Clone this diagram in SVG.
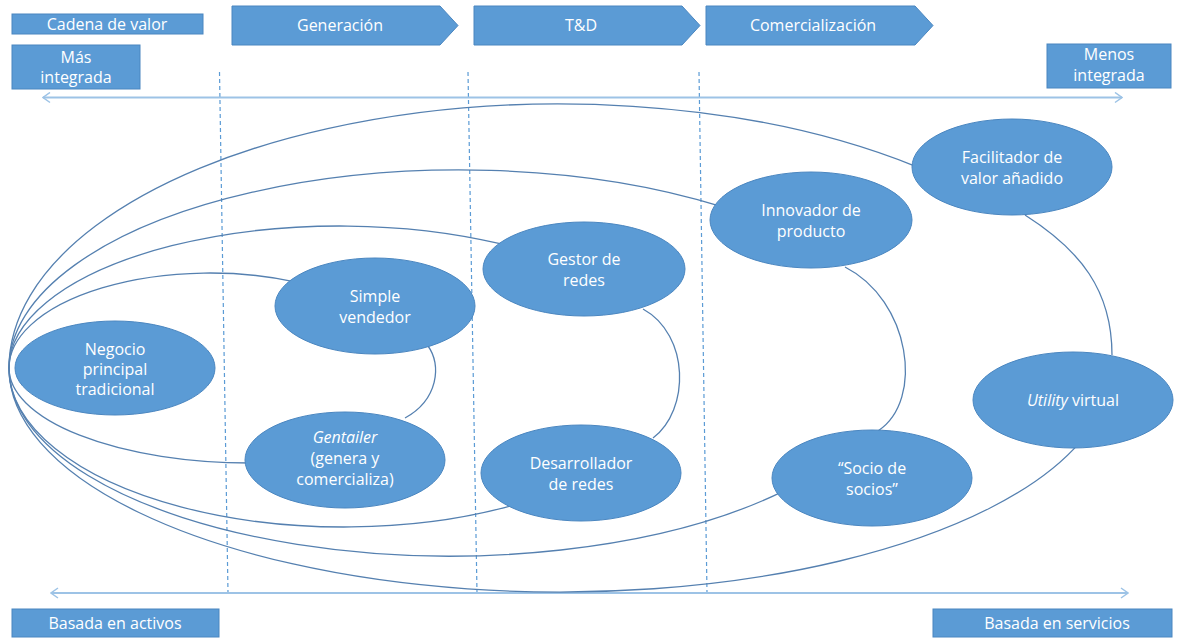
<svg xmlns="http://www.w3.org/2000/svg" width="1181" height="638" viewBox="0 0 1181 638">
<style>
  .box { fill: #5b9bd5; stroke: #4a86c0; stroke-width: 1; }
  .node { fill: #5b9bd5; stroke: #4a86c0; stroke-width: 1; }
  .t { font-family: "Open Sans", "Noto Sans", "DejaVu Sans", sans-serif; font-size: 16px; fill: #ffffff; text-anchor: middle; }
  .conn { fill: none; stroke: #5580b0; stroke-width: 1.3; }
  .dash { fill: none; stroke: #5b9bd5; stroke-width: 1.2; stroke-dasharray: 4 3; }
  .axis { fill: none; stroke: #9dc3e6; stroke-width: 2; }
</style>
<defs>
  <marker id="chev" viewBox="0 0 10 12" refX="9" refY="6" markerWidth="10" markerHeight="12" markerUnits="userSpaceOnUse" orient="auto-start-reverse">
    <path d="M 2 1 L 9 6 L 2 11" fill="none" stroke="#9dc3e6" stroke-width="1.5"/>
  </marker>
</defs>
<rect width="1181" height="638" fill="#ffffff"/>

<!-- header labels -->
<g id="cadena-valor">
  <rect class="box" x="12" y="14" width="191" height="20"/>
  <text class="t" x="107" y="30">Cadena de valor</text>
</g>
<g id="generacion">
  <polygon class="box" points="232,6 440,6 458,25.5 440,45 232,45"/>
  <text class="t" x="340" y="31">Generación</text>
</g>
<g id="td">
  <polygon class="box" points="474,6 682,6 700,25.5 682,45 474,45"/>
  <text class="t" x="581" y="31">T&amp;D</text>
</g>
<g id="comercializacion">
  <polygon class="box" points="706,6 915,6 933,25.5 915,45 706,45"/>
  <text class="t" x="813" y="31">Comercialización</text>
</g>
<g id="mas-integrada">
  <rect class="box" x="12" y="45" width="128" height="44"/>
  <text class="t" x="76" y="63">Más</text>
  <text class="t" x="76" y="83">integrada</text>
</g>
<g id="menos-integrada">
  <rect class="box" x="1047" y="44" width="124" height="44"/>
  <text class="t" x="1109" y="60">Menos</text>
  <text class="t" x="1109" y="81">integrada</text>
</g>
<g id="basada-activos">
  <rect class="box" x="12" y="609" width="207" height="28"/>
  <text class="t" x="115" y="629">Basada en activos</text>
</g>
<g id="basada-servicios">
  <rect class="box" x="933" y="609" width="239" height="28"/>
  <text class="t" x="1057" y="629">Basada en servicios</text>
</g>

<!-- guides and axes -->
<g id="guides">
  <line class="dash" x1="219.5" y1="72" x2="228" y2="593"/>
  <line class="dash" x1="468" y1="72" x2="477" y2="593"/>
  <line class="dash" x1="699" y1="72" x2="707" y2="593"/>
  <line class="axis" x1="43" y1="97.5" x2="1122" y2="97.5" marker-start="url(#chev)" marker-end="url(#chev)"/>
  <line class="axis" x1="51" y1="593" x2="1128" y2="593" marker-start="url(#chev)" marker-end="url(#chev)"/>
</g>

<!-- connectors -->
<g id="connectors">
  <path class="conn" d="M 9 368 A 551 264 0 0 1 915 166.1"/>
  <path class="conn" d="M 9 368 A 451 198 0 0 1 720 206.2"/>
  <path class="conn" d="M 9 368 A 331 142 0 0 1 500 243.7"/>
  <path class="conn" d="M 9 368 A 201 95 0 0 1 295 281.9"/>
  <path class="conn" d="M 9 368 A 241 95 0 0 0 250 463 L 262 463"/>
  <path class="conn" d="M 9 368 A 335 159 0 0 0 520 503.3"/>
  <path class="conn" d="M 9 368 A 441 188 0 0 0 785 490.3"/>
  <path class="conn" d="M 9 368 A 551 224 0 0 0 1080 442.1"/>
  <path class="conn" d="M 428 346 C 442 365 438 400 405 418"/>
  <path class="conn" d="M 643 309 C 690 335 690 410 653 438"/>
  <path class="conn" d="M 845 267 C 910 300 925 400 878 431"/>
  <path class="conn" d="M 1025 215 C 1080 250 1112 290 1112 355"/>
</g>

<!-- nodes -->
<g id="negocio">
  <ellipse class="node" cx="115" cy="368" rx="100" ry="47"/>
  <text class="t" x="115" y="355">Negocio</text>
  <text class="t" x="115" y="375">principal</text>
  <text class="t" x="115" y="395">tradicional</text>
</g>
<g id="simple-vendedor">
  <ellipse class="node" cx="375" cy="306" rx="100" ry="48"/>
  <text class="t" x="375" y="302">Simple</text>
  <text class="t" x="375" y="323">vendedor</text>
</g>
<g id="gentailer">
  <ellipse class="node" cx="345" cy="460" rx="100" ry="48"/>
  <text class="t" x="345" y="443" font-style="italic">Gentailer</text>
  <text class="t" x="345" y="464">(genera y</text>
  <text class="t" x="345" y="485">comercializa)</text>
</g>
<g id="gestor-redes">
  <ellipse class="node" cx="584" cy="269" rx="101" ry="47"/>
  <text class="t" x="584" y="265">Gestor de</text>
  <text class="t" x="584" y="286">redes</text>
</g>
<g id="desarrollador-redes">
  <ellipse class="node" cx="581" cy="473" rx="100" ry="48"/>
  <text class="t" x="581" y="469">Desarrollador</text>
  <text class="t" x="581" y="490">de redes</text>
</g>
<g id="innovador-producto">
  <ellipse class="node" cx="811" cy="220" rx="101" ry="48"/>
  <text class="t" x="811" y="216">Innovador de</text>
  <text class="t" x="811" y="237">producto</text>
</g>
<g id="socio-socios">
  <ellipse class="node" cx="872" cy="478" rx="100" ry="48"/>
  <text class="t" x="872" y="474">“Socio de</text>
  <text class="t" x="872" y="495">socios”</text>
</g>
<g id="facilitador">
  <ellipse class="node" cx="1012" cy="167" rx="100" ry="48"/>
  <text class="t" x="1012" y="163">Facilitador de</text>
  <text class="t" x="1012" y="184">valor añadido</text>
</g>
<g id="utility-virtual">
  <ellipse class="node" cx="1073" cy="400" rx="100" ry="48"/>
  <text class="t" x="1073" y="406"><tspan font-style="italic">Utility</tspan> virtual</text>
</g>
</svg>
